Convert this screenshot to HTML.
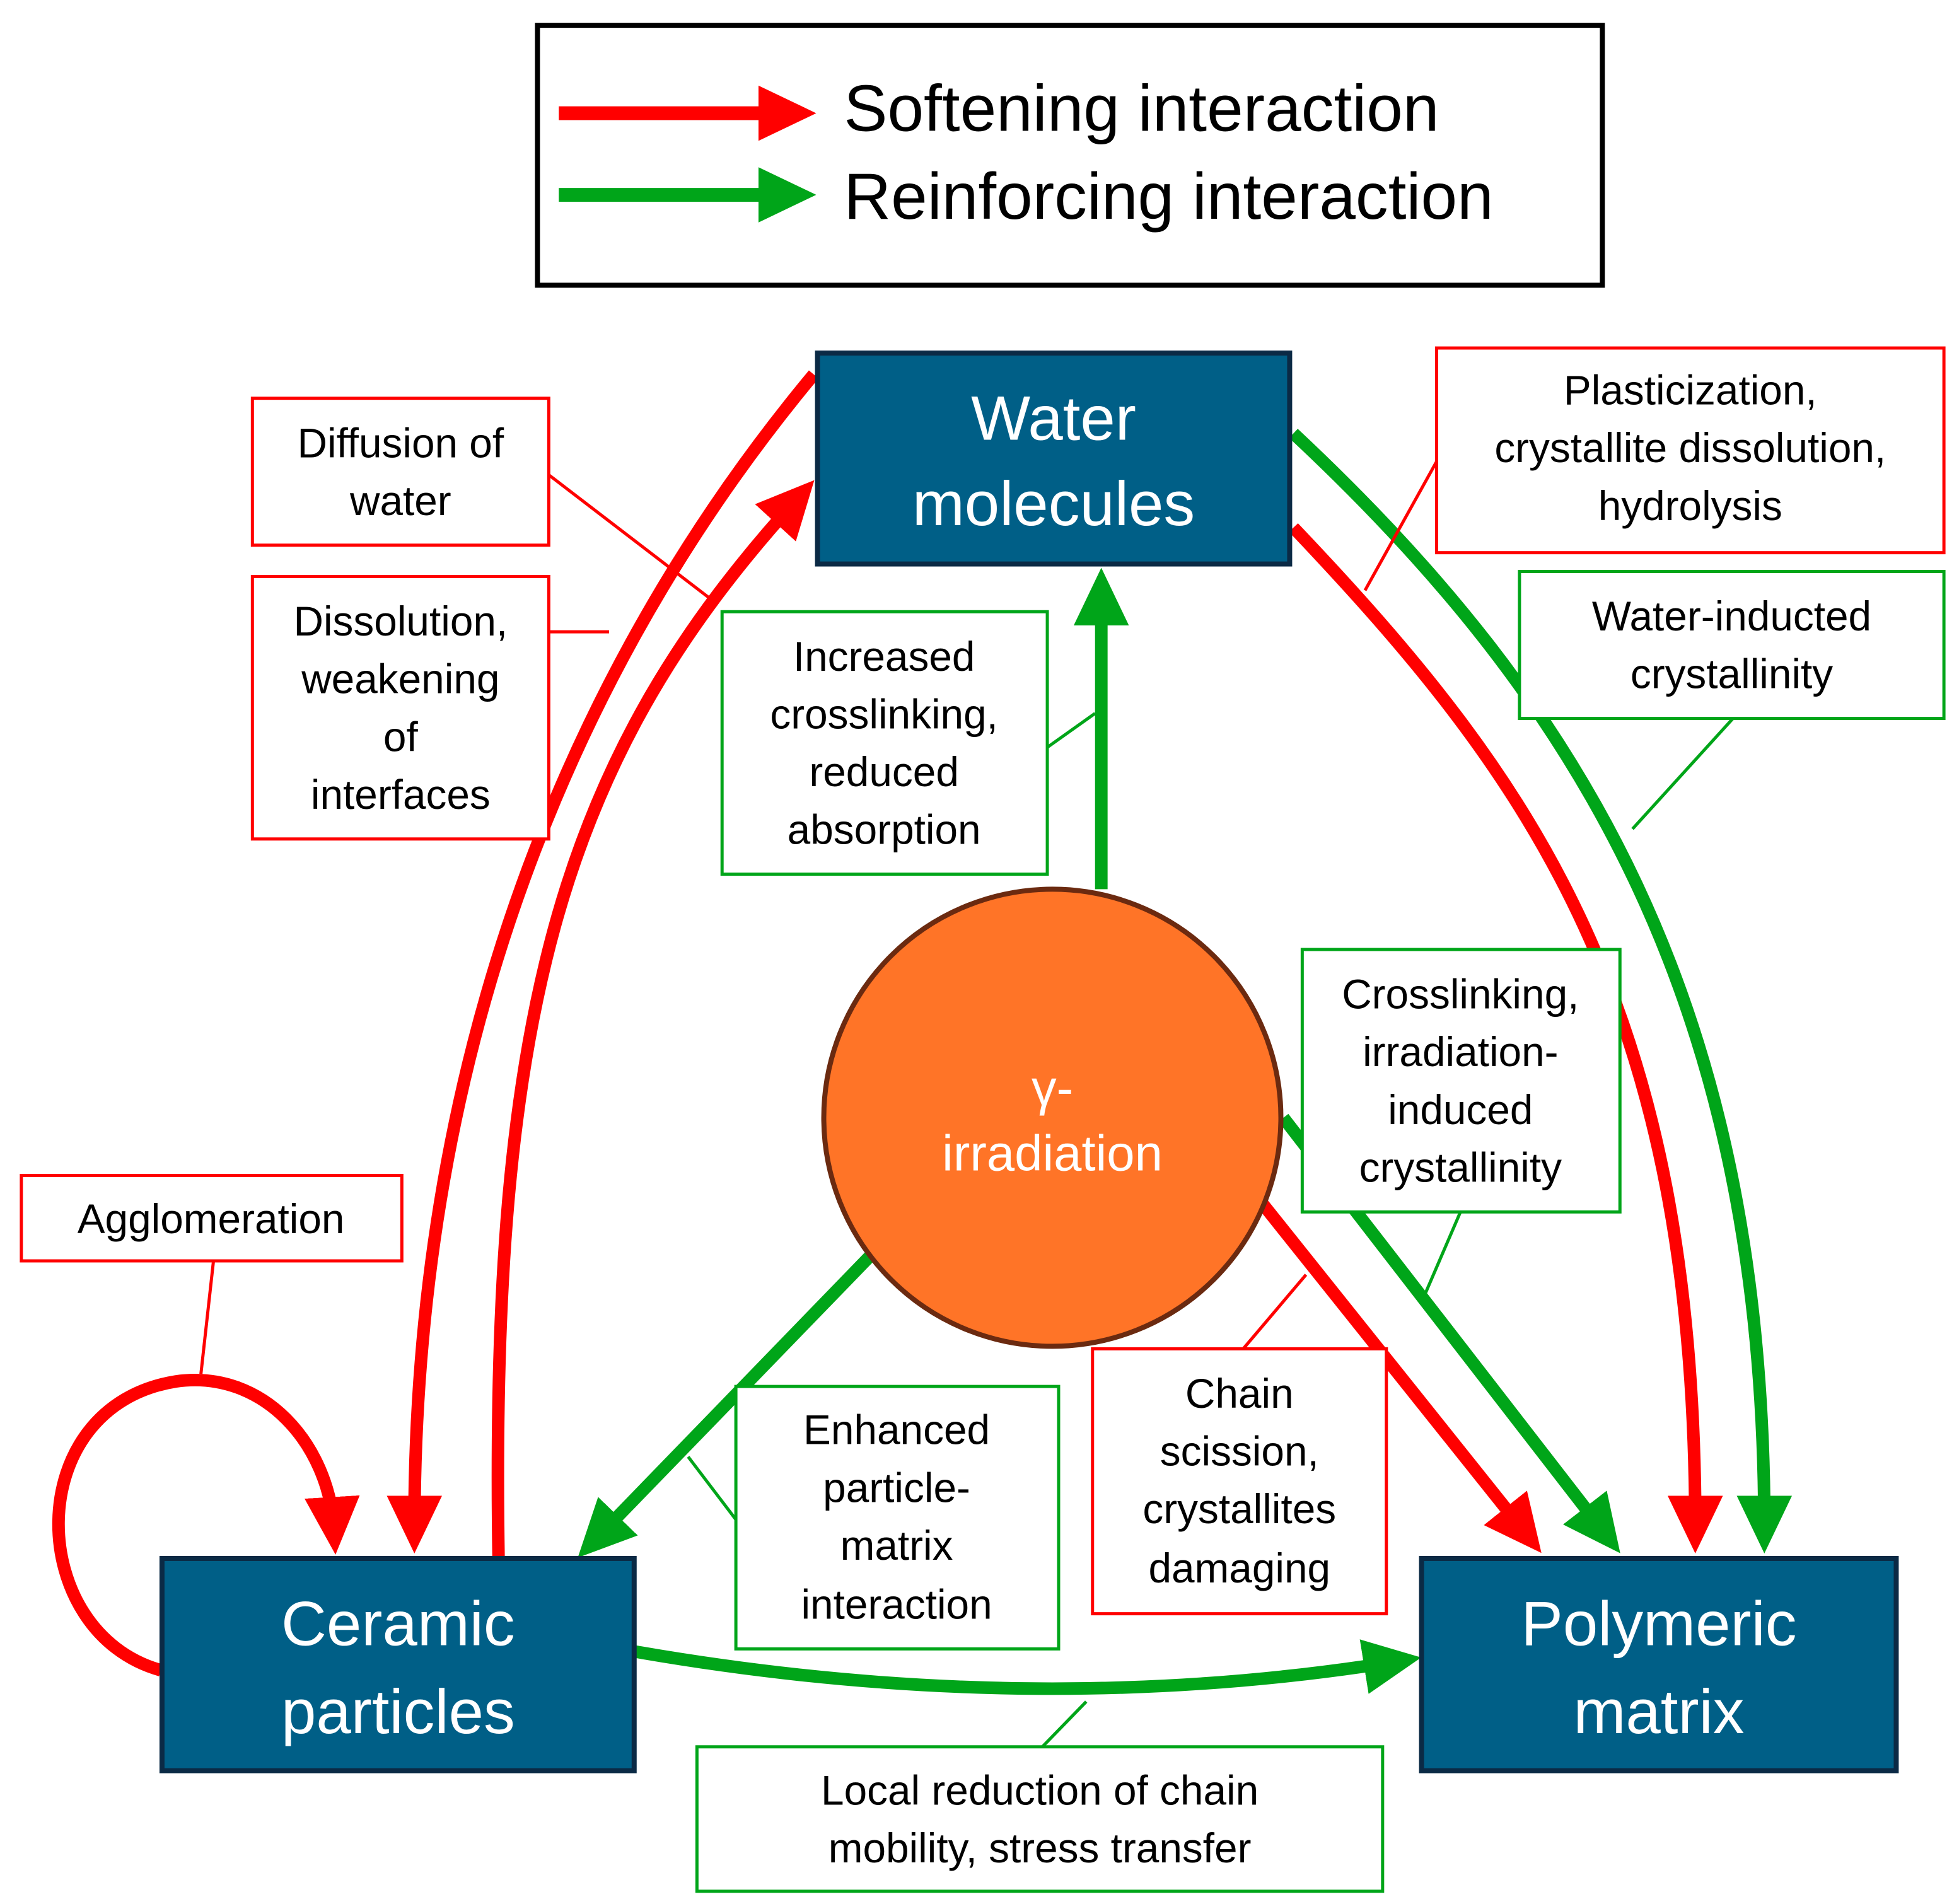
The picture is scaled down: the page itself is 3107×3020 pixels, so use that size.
<!DOCTYPE html>
<html><head><meta charset="utf-8"><style>
html,body{margin:0;padding:0;background:#fff;}
svg{display:block;}
text{font-family:"Liberation Sans",sans-serif;}
</style></head><body>
<svg width="3107" height="3020" viewBox="0 0 1560 1516" xmlns="http://www.w3.org/2000/svg">
<defs>
<marker id="ar" markerUnits="userSpaceOnUse" markerWidth="50" markerHeight="50" refX="26" refY="24" orient="auto"><path d="M0,2 L46,24 L0,46 z" fill="#ff0000"/></marker>
<marker id="ag" markerUnits="userSpaceOnUse" markerWidth="50" markerHeight="50" refX="26" refY="24" orient="auto"><path d="M0,2 L46,24 L0,46 z" fill="#00a519"/></marker>
</defs>
<rect width="1560" height="1516" fill="#fff"/>
<!-- legend -->
<rect x="428" y="20" width="848" height="207" fill="#fff" stroke="#000" stroke-width="4"/>
<line x1="445" y1="90" x2="630" y2="90" stroke="#ff0000" stroke-width="11" marker-end="url(#ar)"/>
<line x1="445" y1="155" x2="630" y2="155" stroke="#00a519" stroke-width="11" marker-end="url(#ag)"/>
<text x="672" y="104" font-size="52" fill="#000">Softening interaction</text>
<text x="672" y="174" font-size="52" fill="#000">Reinforcing interaction</text>

<!-- arrows -->
<g fill="none" stroke-width="10">
<path d="M648,298 C480,500 330,800 330,1217" stroke="#ff0000" marker-end="url(#ar)"/>
<path d="M397,1240 C390,800 450,600 635,397" stroke="#ff0000" marker-end="url(#ar)"/>
<path d="M1030,420 C1220,620 1350,800 1350,1217" stroke="#ff0000" marker-end="url(#ar)"/>
<path d="M1030,345 C1260,560 1405,800 1405,1217" stroke="#00a519" marker-end="url(#ag)"/>
<line x1="1005" y1="958" x2="1215" y2="1221" stroke="#ff0000" marker-end="url(#ar)"/>
<line x1="1022" y1="890" x2="1278" y2="1221" stroke="#00a519" marker-end="url(#ag)"/>
<line x1="693" y1="1000" x2="474" y2="1226" stroke="#00a519" marker-end="url(#ag)"/>
<line x1="877" y1="708" x2="877" y2="472" stroke="#00a519" marker-end="url(#ag)"/>
<path d="M505,1315 Q820,1370 1112,1323" stroke="#00a519" marker-end="url(#ag)"/>
<path d="M128,1330 C20,1300 15,1120 140,1100 C210,1090 262,1150 266,1218" stroke="#ff0000" marker-end="url(#ar)"/>
</g>

<!-- leader lines -->
<g stroke-width="2.5">
<line x1="437" y1="378" x2="570" y2="480" stroke="#ff0000"/>
<line x1="437" y1="503" x2="485" y2="503" stroke="#ff0000"/>
<line x1="1147" y1="362" x2="1087" y2="470" stroke="#ff0000"/>
<line x1="1380" y1="572" x2="1300" y2="660" stroke="#00a519"/>
<line x1="834" y1="595" x2="872" y2="568" stroke="#00a519"/>
<line x1="1163" y1="965" x2="1135" y2="1030" stroke="#00a519"/>
<line x1="170" y1="1004" x2="160" y2="1094" stroke="#ff0000"/>
<line x1="586" y1="1210" x2="548" y2="1160" stroke="#00a519"/>
<line x1="990" y1="1074" x2="1040" y2="1015" stroke="#ff0000"/>
<line x1="830" y1="1391" x2="865" y2="1355" stroke="#00a519"/>
</g>

<!-- main nodes -->
<g fill="#005f87" stroke="#0b2a45" stroke-width="4">
<rect x="651" y="281" width="376" height="168"/>
<rect x="129" y="1241" width="376" height="169"/>
<rect x="1132" y="1241" width="378" height="169"/>
</g>
<g fill="#fff" font-size="50" text-anchor="middle">
<text x="839" y="350">Water</text><text x="839" y="418">molecules</text>
<text x="317" y="1310">Ceramic</text><text x="317" y="1380">particles</text>
<text x="1321" y="1310">Polymeric</text><text x="1321" y="1380">matrix</text>
</g>
<circle cx="838" cy="890" r="182" fill="#ff7427" stroke="#6b2a10" stroke-width="4"/>
<g fill="#fff" font-size="40" text-anchor="middle">
<text x="838" y="880">γ-</text><text x="838" y="932">irradiation</text>
</g>

<!-- label boxes -->
<g fill="#fff" stroke-width="2.5">
<rect x="201" y="317" width="236" height="117" stroke="#ff0000"/>
<rect x="201" y="459" width="236" height="209" stroke="#ff0000"/>
<rect x="1144" y="277" width="404" height="163" stroke="#ff0000"/>
<rect x="1210" y="455" width="338" height="117" stroke="#00a519"/>
<rect x="575" y="487" width="259" height="209" stroke="#00a519"/>
<rect x="1037" y="756" width="253" height="209" stroke="#00a519"/>
<rect x="17" y="936" width="303" height="68" stroke="#ff0000"/>
<rect x="586" y="1104" width="257" height="209" stroke="#00a519"/>
<rect x="870" y="1074" width="234" height="211" stroke="#ff0000"/>
<rect x="555" y="1391" width="546" height="115" stroke="#00a519"/>
</g>
<g fill="#000" font-size="33" text-anchor="middle">
<text x="319" y="364">Diffusion of</text><text x="319" y="410">water</text>
<text x="319" y="506">Dissolution,</text><text x="319" y="552">weakening</text><text x="319" y="598">of</text><text x="319" y="644">interfaces</text>
<text x="1346" y="322">Plasticization,</text><text x="1346" y="368">crystallite dissolution,</text><text x="1346" y="414">hydrolysis</text>
<text x="1379" y="502">Water-inducted</text><text x="1379" y="548">crystallinity</text>
<text x="704" y="534">Increased</text><text x="704" y="580">crosslinking,</text><text x="704" y="626">reduced</text><text x="704" y="672">absorption</text>
<text x="1163" y="803">Crosslinking,</text><text x="1163" y="849">irradiation-</text><text x="1163" y="895">induced</text><text x="1163" y="941">crystallinity</text>
<text x="168" y="982">Agglomeration</text>
<text x="714" y="1150">Enhanced</text><text x="714" y="1196">particle-</text><text x="714" y="1242">matrix</text><text x="714" y="1289">interaction</text>
<text x="987" y="1121">Chain</text><text x="987" y="1167">scission,</text><text x="987" y="1213">crystallites</text><text x="987" y="1260">damaging</text>
<text x="828" y="1437">Local reduction of chain</text><text x="828" y="1483">mobility, stress transfer</text>
</g>
</svg>
</body></html>
